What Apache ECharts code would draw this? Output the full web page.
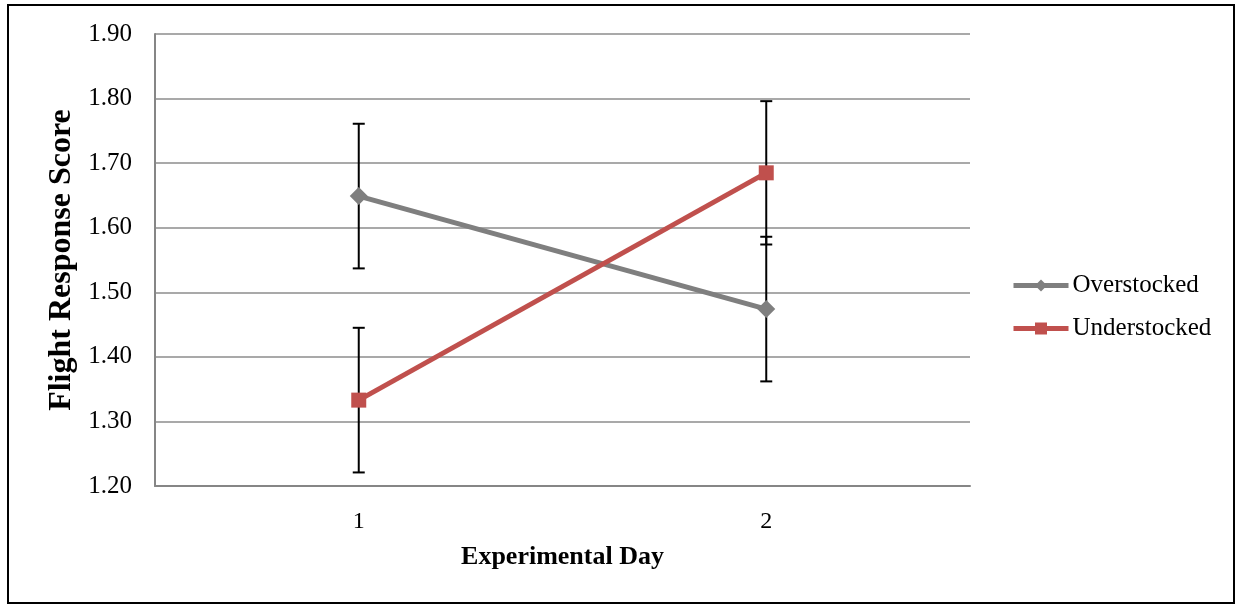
<!DOCTYPE html>
<html>
<head>
<meta charset="utf-8">
<script src="https://cdn.jsdelivr.net/npm/echarts@6/dist/echarts.min.js"></script>
<style>
html,body{margin:0;padding:0;background:#fff;}
#chart{width:1241px;height:605px;}
</style>
</head>
<body>
<div id="chart"></div>
<script>
const categories = ['1', '2'];
const overstockedMean = [1.649, 1.474];
const overstockedErr = [0.112, 0.112];
const understockedMean = [1.333, 1.685];
const understockedErr = [0.112, 0.111];
const yTicks = { min: 1.2, max: 1.9, interval: 0.1 };

const FONT = '"Liberation Serif", "Times New Roman", serif';

function errData(means, errs) {
  return means.map((m, i) => [i, m - errs[i], m + errs[i]]);
}

function renderErr(params, api) {
  const x = api.value(0);
  const lo = api.coord([x, api.value(1)]);
  const hi = api.coord([x, api.value(2)]);
  const w = 6;
  const style = { stroke: '#000', lineWidth: 2 };
  return {
    type: 'group',
    children: [
      { type: 'line', shape: { x1: hi[0], y1: hi[1], x2: lo[0], y2: lo[1] }, style },
      { type: 'line', shape: { x1: hi[0] - w, y1: hi[1], x2: hi[0] + w, y2: hi[1] }, style },
      { type: 'line', shape: { x1: lo[0] - w, y1: lo[1], x2: lo[0] + w, y2: lo[1] }, style }
    ]
  };
}

const chart = echarts.init(document.getElementById('chart'), null, { renderer: 'canvas' });
chart.setOption({
  animation: false,
  backgroundColor: '#fff',
  graphic: [{
    type: 'rect',
    shape: { x: 8, y: 5, width: 1226, height: 598 },
    style: { fill: 'none', stroke: '#000', lineWidth: 2 },
    z: 100
  }],
  grid: { left: 155, right: 271, top: 34, bottom: 119 },
  legend: {
    orient: 'vertical',
    left: 1006,
    top: 268,
    itemWidth: 55,
    itemHeight: 15,
    itemGap: 18,
    lineStyle: { width: 5 },
    textStyle: { fontFamily: FONT, fontSize: 25, color: '#000', padding: [0, 0, 0, -1] },
    data: ['Overstocked', 'Understocked']
  },
  xAxis: {
    type: 'category',
    data: categories,
    boundaryGap: true,
    axisLine: { lineStyle: { color: '#868686', width: 2 } },
    axisTick: { show: false },
    axisLabel: { fontFamily: FONT, fontSize: 24, color: '#000', margin: 24 },
    name: 'Experimental Day',
    nameLocation: 'middle',
    nameGap: 58,
    nameTextStyle: { fontFamily: FONT, fontSize: 26, fontWeight: 'bold', color: '#000' }
  },
  yAxis: {
    type: 'value',
    min: yTicks.min,
    max: yTicks.max,
    interval: yTicks.interval,
    axisLine: { show: true, lineStyle: { color: '#868686', width: 2 } },
    axisTick: { show: false },
    splitLine: { lineStyle: { color: '#8c8c8c', width: 1.5 } },
    axisLabel: {
      fontFamily: FONT, fontSize: 25, color: '#000', margin: 23,
      formatter: v => v.toFixed(2)
    },
    name: 'Flight Response Score',
    nameLocation: 'middle',
    nameGap: 76,
    nameTextStyle: { fontFamily: FONT, fontSize: 32, fontWeight: 'bold', color: '#000' }
  },
  series: [
    {
      name: 'Overstocked',
      type: 'line',
      data: overstockedMean,
      symbol: 'diamond',
      symbolSize: 18,
      itemStyle: { color: '#7f7f7f' },
      lineStyle: { color: '#7f7f7f', width: 5 },
      z: 3
    },
    {
      name: 'Understocked',
      type: 'line',
      data: understockedMean,
      symbol: 'rect',
      symbolSize: 15,
      itemStyle: { color: '#c0504d' },
      lineStyle: { color: '#c0504d', width: 5 },
      z: 3
    },
    {
      type: 'custom',
      name: 'errO',
      data: errData(overstockedMean, overstockedErr),
      renderItem: renderErr,
      encode: { x: 0, y: [1, 2] },
      z: 2,
      silent: true
    },
    {
      type: 'custom',
      name: 'errU',
      data: errData(understockedMean, understockedErr),
      renderItem: renderErr,
      encode: { x: 0, y: [1, 2] },
      z: 2,
      silent: true
    }
  ]
});
</script>
</body>
</html>
